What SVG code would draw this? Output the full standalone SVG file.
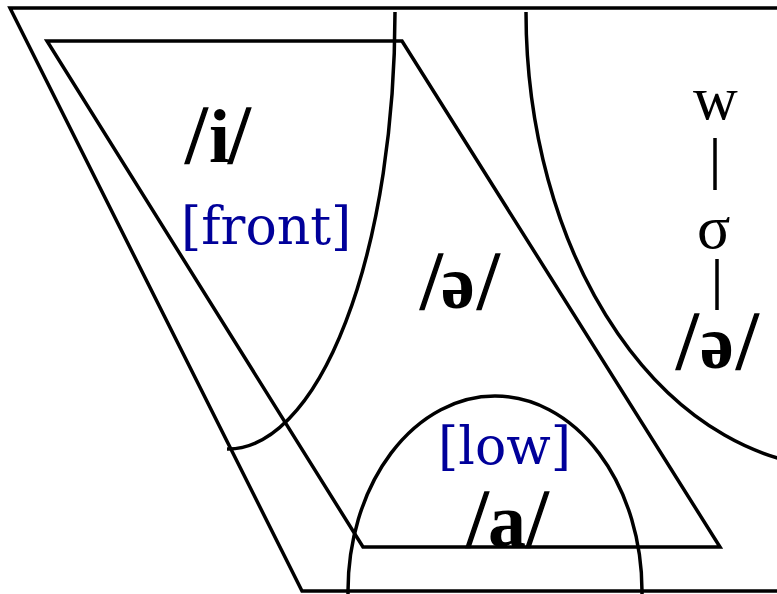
<svg xmlns="http://www.w3.org/2000/svg" width="777" height="594" viewBox="0 0 777 594">
<style>
.ln{fill:none;stroke:#000;stroke-width:3.5;stroke-linejoin:miter}
.sl{font-family:"Liberation Serif","DejaVu Serif",serif;font-size:82px;font-weight:normal;stroke:#000;stroke-width:1.4}
.b{font-family:"Liberation Serif","DejaVu Serif",serif;font-size:76px;font-weight:bold}
.feat{font-family:"DejaVu Serif",serif;font-size:52px;fill:#00009a}
.tr{font-family:"Liberation Serif","DejaVu Serif",serif;font-size:62px}
</style>
<rect width="777" height="594" fill="#fff"/>
<g id="connectors">
<path class="ln" d="M777,8 H10 L302,591 H777"/>
<path class="ln" d="M47,41 H402 L720,547 H363 Z"/>
<path class="ln" d="M395,12 A167,437 0 0 1 227,449"/>
<path class="ln" d="M526,12 A314,455 0 0 0 840,467"/>
<path class="ln" d="M348,594 V591 A147,195 0 0 1 642,591 V594"/>
<line class="ln" x1="715" y1="138" x2="715" y2="190"/>
<line class="ln" x1="717" y1="259" x2="717" y2="310"/>
</g>
<g id="i-node">
<text y="162"><tspan class="sl" x="185">/</tspan><tspan class="b" x="209">i</tspan><tspan class="sl" x="228">/</tspan></text>
<text class="feat" x="181" y="244">[front]</text>
</g>
<g id="schwa-node">
<text y="308"><tspan class="sl" x="420">/</tspan><tspan class="b" x="441">ə</tspan><tspan class="sl" x="477">/</tspan></text>
</g>
<g id="a-node">
<text class="feat" x="438" y="464">[low]</text>
<text y="546"><tspan class="sl" x="466">/</tspan><tspan class="b" x="488">a</tspan><tspan class="sl" x="526">/</tspan></text>
</g>
<g id="w-node">
<text class="tr" x="693" y="119">w</text>
</g>
<g id="sigma-node">
<text class="tr" x="697" y="248">σ</text>
</g>
<g id="schwa2-node">
<text y="368"><tspan class="sl" x="676">/</tspan><tspan class="b" x="700">ə</tspan><tspan class="sl" x="736">/</tspan></text>
</g>
</svg>
